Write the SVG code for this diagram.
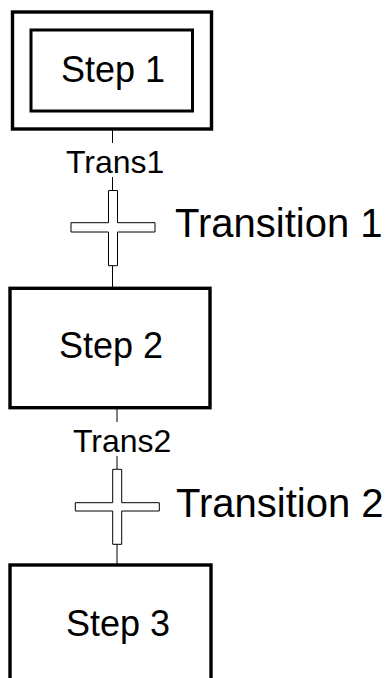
<svg xmlns="http://www.w3.org/2000/svg" width="390" height="678" viewBox="0 0 390 678">
<style>
.box{fill:#fff;stroke:#000;stroke-width:3.4}
.bar{fill:#fff;stroke:#000;stroke-width:1}
.ln{stroke:#000;stroke-width:1;fill:none}
text{font-family:"Liberation Sans",Arial,sans-serif;fill:#000}
.st{font-size:36px}
.tl{font-size:32px}
.tt{font-size:40px}
</style>
<rect width="390" height="678" fill="#fff"/>
<g id="connectors">
<line class="ln" x1="112.5" y1="129" x2="112.5" y2="143"/>
<line class="ln" x1="112.5" y1="177" x2="112.5" y2="190"/>
<line class="ln" x1="112.5" y1="266" x2="112.5" y2="288"/>
<line class="ln" x1="117" y1="408" x2="117" y2="422"/>
<line class="ln" x1="117" y1="456" x2="117" y2="469"/>
<line class="ln" x1="117" y1="544" x2="117" y2="565"/>
</g>
<g id="step1">
<rect class="box" x="12.5" y="12" width="199" height="117"/>
<rect class="box" x="31" y="30" width="161.5" height="81" style="stroke-width:3"/>
<text class="st" x="61" y="81.5">Step 1</text>
</g>
<g id="trans1">
<text class="tl" x="66" y="173">Trans1</text>
<path class="bar" d="M108.5 190.5H117.5V222.7H155V232H117.5V265.7H108.5V232H71V222.7H108.5Z"/>
<text class="tt" x="175" y="237">Transition 1</text>
</g>
<g id="step2">
<rect class="box" x="10" y="288.3" width="200" height="119.4"/>
<text class="st" x="59" y="358.3">Step 2</text>
</g>
<g id="trans2">
<text class="tl" x="73" y="452.3">Trans2</text>
<path class="bar" d="M112.7 469.3H121.7V502.7H159.3V511H121.7V544.3H112.7V511H75.3V502.7H112.7Z"/>
<text class="tt" x="176" y="516.7">Transition 2</text>
</g>
<g id="step3">
<rect class="box" x="10" y="565" width="201" height="140"/>
<text class="st" x="66" y="636">Step 3</text>
</g>
</svg>
